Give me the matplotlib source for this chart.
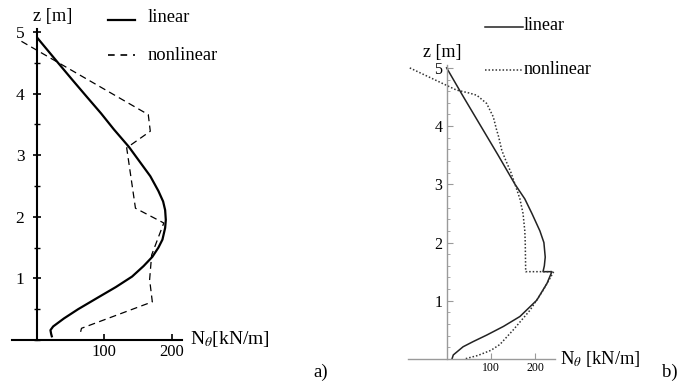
import numpy as np
import matplotlib
matplotlib.use("Agg")
import matplotlib.pyplot as plt
from matplotlib.ticker import MultipleLocator

plt.rcParams['font.family'] = ['Liberation Serif', 'DejaVu Serif']
plt.rcParams['mathtext.fontset'] = 'stix'

# panel a) data: N_theta [kN/m], z [m]
a_lin_n = [1, 26, 52, 73, 95, 114, 136, 152, 168, 180, 187, 190, 191, 190, 186, 180, 171, 158, 141, 117, 92, 61, 40, 24, 20, 21, 22]
a_lin_z = [4.9, 4.57, 4.23, 3.96, 3.68, 3.42, 3.14, 2.9, 2.66, 2.42, 2.25, 2.11, 1.95, 1.82, 1.63, 1.5, 1.35, 1.2, 1.03, 0.86, 0.7, 0.5, 0.35, 0.22, 0.16, 0.1, 0.06]
a_nl_n = [-23, 165, 168, 133, 146, 188, 170, 167, 171, 66, 64]
a_nl_z = [4.85, 3.66, 3.39, 3.12, 2.14, 1.9, 1.38, 0.98, 0.62, 0.19, 0.1]

# panel b) data
b_lin_n = [0, 38, 77, 116, 154, 176, 192, 210, 219, 222, 220, 217, 237, 226, 203, 165, 128, 90, 60, 37, 15, 12]
b_lin_z = [5.0, 4.5, 4.0, 3.5, 3.0, 2.75, 2.5, 2.2, 2.0, 1.75, 1.6, 1.5, 1.5, 1.3, 1.01, 0.73, 0.56, 0.41, 0.3, 0.21, 0.07, 0.0]
b_nl_n = [-83, 22, 50, 68, 90, 105, 112, 117, 124, 131, 145, 154, 165, 172, 176, 177, 178, 241, 230, 218, 188, 150, 120, 100, 70, 40]
b_nl_z = [5.0, 4.62, 4.57, 4.53, 4.39, 4.16, 3.95, 3.82, 3.59, 3.45, 3.2, 3.0, 2.75, 2.5, 2.2, 2.0, 1.5, 1.5, 1.35, 1.19, 0.84, 0.5, 0.25, 0.15, 0.06, 0.0]

x_ticks = [100, 200]
z_ticks = [1, 2, 3, 4, 5]

W, H = 685, 384
fig = plt.figure(figsize=(6.85, 3.84), dpi=100)


def box(l, r, b, t):
    # pixel box -> figure fraction
    return [l / W, 1 - b / H, (r - l) / W, (b - t) / H]


def axes_setup(ax, col, lw):
    for s in ['top', 'right']:
        ax.spines[s].set_visible(False)
    ax.spines['left'].set_position(('data', 0))
    ax.spines['bottom'].set_position(('data', 0))
    for s in ['left', 'bottom']:
        ax.spines[s].set_color(col)
        ax.spines[s].set_linewidth(lw)
    ax.set_xticks(x_ticks)
    ax.set_yticks(z_ticks)
    ax.patch.set_visible(False)


# ---------- a) ----------
axa = fig.add_axes(box(12, 182, 340, 29))
axes_setup(axa, 'black', 1.5)
axa.set_xlim(-37, 215)
axa.set_ylim(0, 5.05)
axa.yaxis.set_minor_locator(MultipleLocator(0.5))
axa.tick_params(axis='y', which='major', direction='inout', length=6, width=1.2, labelsize=12.5, pad=6)
axa.tick_params(axis='y', which='minor', direction='inout', length=4, width=1.0)
axa.tick_params(axis='x', direction='in', length=4, width=1.2, labelsize=12, pad=3)
axa.plot(a_lin_n, a_lin_z, color='black', lw=1.6)
la, = axa.plot(a_nl_n, a_nl_z, color='black', lw=0.9)
la.set_dashes((5.5, 3.5))

fig.text(33 / W, 1 - 17 / H, 'z [m]', fontsize=13.3, va='center', ha='left')
fig.text(190 / W, 1 - 339 / H, r'N$_{\theta}$[kN/m]', fontsize=14, va='center', ha='left')
fig.text(313 / W, 1 - 372 / H, 'a)', fontsize=13.5, va='center', ha='left')
fig.add_artist(plt.Line2D([108 / W, 135 / W], [1 - 20 / H, 1 - 20 / H], color='black', lw=1.6))
ll = plt.Line2D([108 / W, 135 / W], [1 - 55 / H, 1 - 55 / H], color='black', lw=1.2)
ll.set_dashes((4, 3.5))
fig.add_artist(ll)
fig.text(148 / W, 1 - 18 / H, 'linear', fontsize=13.3, va='center', ha='left')
fig.text(148 / W, 1 - 55 / H, 'nonlinear', fontsize=13.3, va='center', ha='left')

# ---------- b) ----------
axb = fig.add_axes(box(408, 555, 359, 65))
axes_setup(axb, '#9a9a9a', 1.0)
axb.set_xlim(-87, 244)
axb.set_ylim(0, 5.05)
axb.yaxis.set_minor_locator(MultipleLocator(0.2))
axb.tick_params(axis='both', which='major', direction='in', length=4, width=0.8, color='#9a9a9a')
axb.tick_params(axis='y', which='minor', direction='in', length=2, width=0.6, color='#9a9a9a')
axb.tick_params(axis='y', labelsize=11.5, pad=3)
axb.tick_params(axis='x', labelsize=8.5, pad=2)
axb.plot(b_lin_n, b_lin_z, color='#222222', lw=1.1)
axb.plot(b_nl_n, b_nl_z, color='#333333', lw=1.1, linestyle=(0, (1, 1.3)))

fig.text(423 / W, 1 - 52 / H, 'z [m]', fontsize=13, va='center', ha='left')
fig.text(560 / W, 1 - 359 / H, r'N$_{\theta}$ [kN/m]', fontsize=13.3, va='center', ha='left')
fig.text(662 / W, 1 - 372 / H, 'b)', fontsize=13.5, va='center', ha='left')
fig.add_artist(plt.Line2D([485 / W, 523 / W], [1 - 27 / H, 1 - 27 / H], color='#222222', lw=1.1))
fig.add_artist(plt.Line2D([485 / W, 523 / W], [1 - 70 / H, 1 - 70 / H], color='#333333', lw=1.1,
                          linestyle=(0, (1, 1.3))))
fig.text(524 / W, 1 - 26 / H, 'linear', fontsize=13, va='center', ha='left')
fig.text(524 / W, 1 - 69 / H, 'nonlinear', fontsize=13, va='center', ha='left')

fig.savefig('out.png', dpi=100)
